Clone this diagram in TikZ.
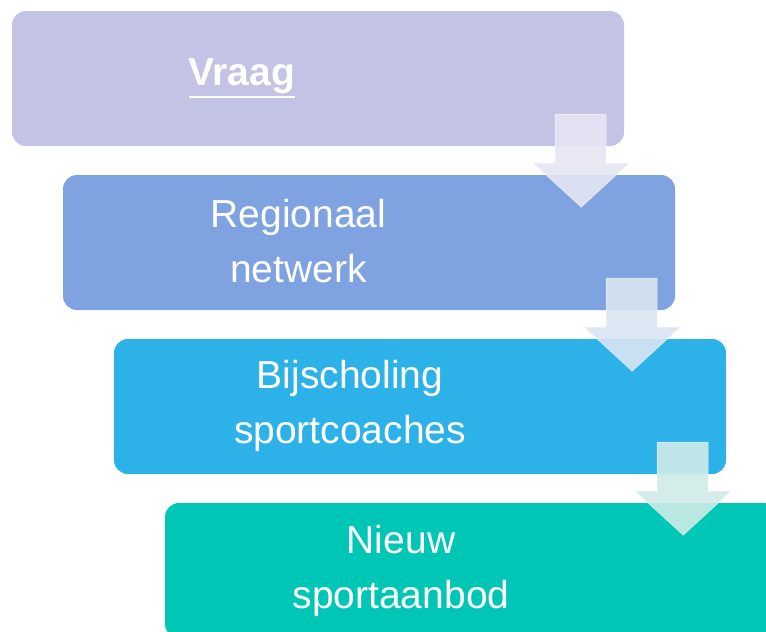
\documentclass[tikz,border=0pt]{standalone}
\usepackage{fontspec}
\setmainfont{Liberation Sans}
\definecolor{cA}{RGB}{195,195,229}
\definecolor{cB}{RGB}{126,163,224}
\definecolor{cC}{RGB}{44,178,232}
\definecolor{cD}{RGB}{0,198,182}
\definecolor{aA}{RGB}{230,230,244}
\definecolor{aB}{RGB}{217,229,242}
\definecolor{aC}{RGB}{208,235,232}
\tikzset{
  stagebox/.style={rounded corners=14pt, minimum width=612pt, minimum height=135pt, inner sep=0pt, draw=none},
  label/.style={text=white, inner sep=0pt, anchor=base, font=\fontsize{39}{47}\selectfont},
  blockarrow/.style={fill opacity=0.9, draw=white, draw opacity=0.45, line width=0.8pt}
}
\newcommand{\stagearrow}[2]{%
  \begin{scope}[shift={(#1.south east)}]
    \fill[blockarrow, fill=#2] (-69,-32) -- (-18,-32) -- (-18,17) -- (5,17) -- (-43,61) -- (-91,17) -- (-69,17) -- cycle;
  \end{scope}}
\begin{document}
\begin{tikzpicture}[x=1pt,y=-1pt]
  \clip (0,0) rectangle (766,632);
  \fill[white] (0,0) rectangle (766,632);
  \node[stagebox, fill=cA] (b1) at (318,78.5) {};
  \node[stagebox, fill=cB] (b2) at (369,242.5) {};
  \node[stagebox, fill=cC] (b3) at (420,406.5) {};
  \node[stagebox, fill=cD] (b4) at (471,570.5) {};
  \node[label, font=\fontsize{39}{47}\selectfont\bfseries] (t1) at (242,85) {Vraag};
  \draw[white, line width=2.6pt] ([yshift=-12pt]t1.base west) -- ([yshift=-12pt]t1.base east);
  \node[label] (t2a) at (298.5,227) {Regionaal};
  \node[label] (t2b) at (298.5,282) {netwerk};
  \node[label] (t3a) at (350,388) {Bijscholing};
  \node[label] (t3b) at (350,443) {sportcoaches};
  \node[label] (t4a) at (401,553) {Nieuw};
  \node[label] (t4b) at (401,608) {sportaanbod};
  \stagearrow{b1}{aA}
  \stagearrow{b2}{aB}
  \stagearrow{b3}{aC}
\end{tikzpicture}
\end{document}
